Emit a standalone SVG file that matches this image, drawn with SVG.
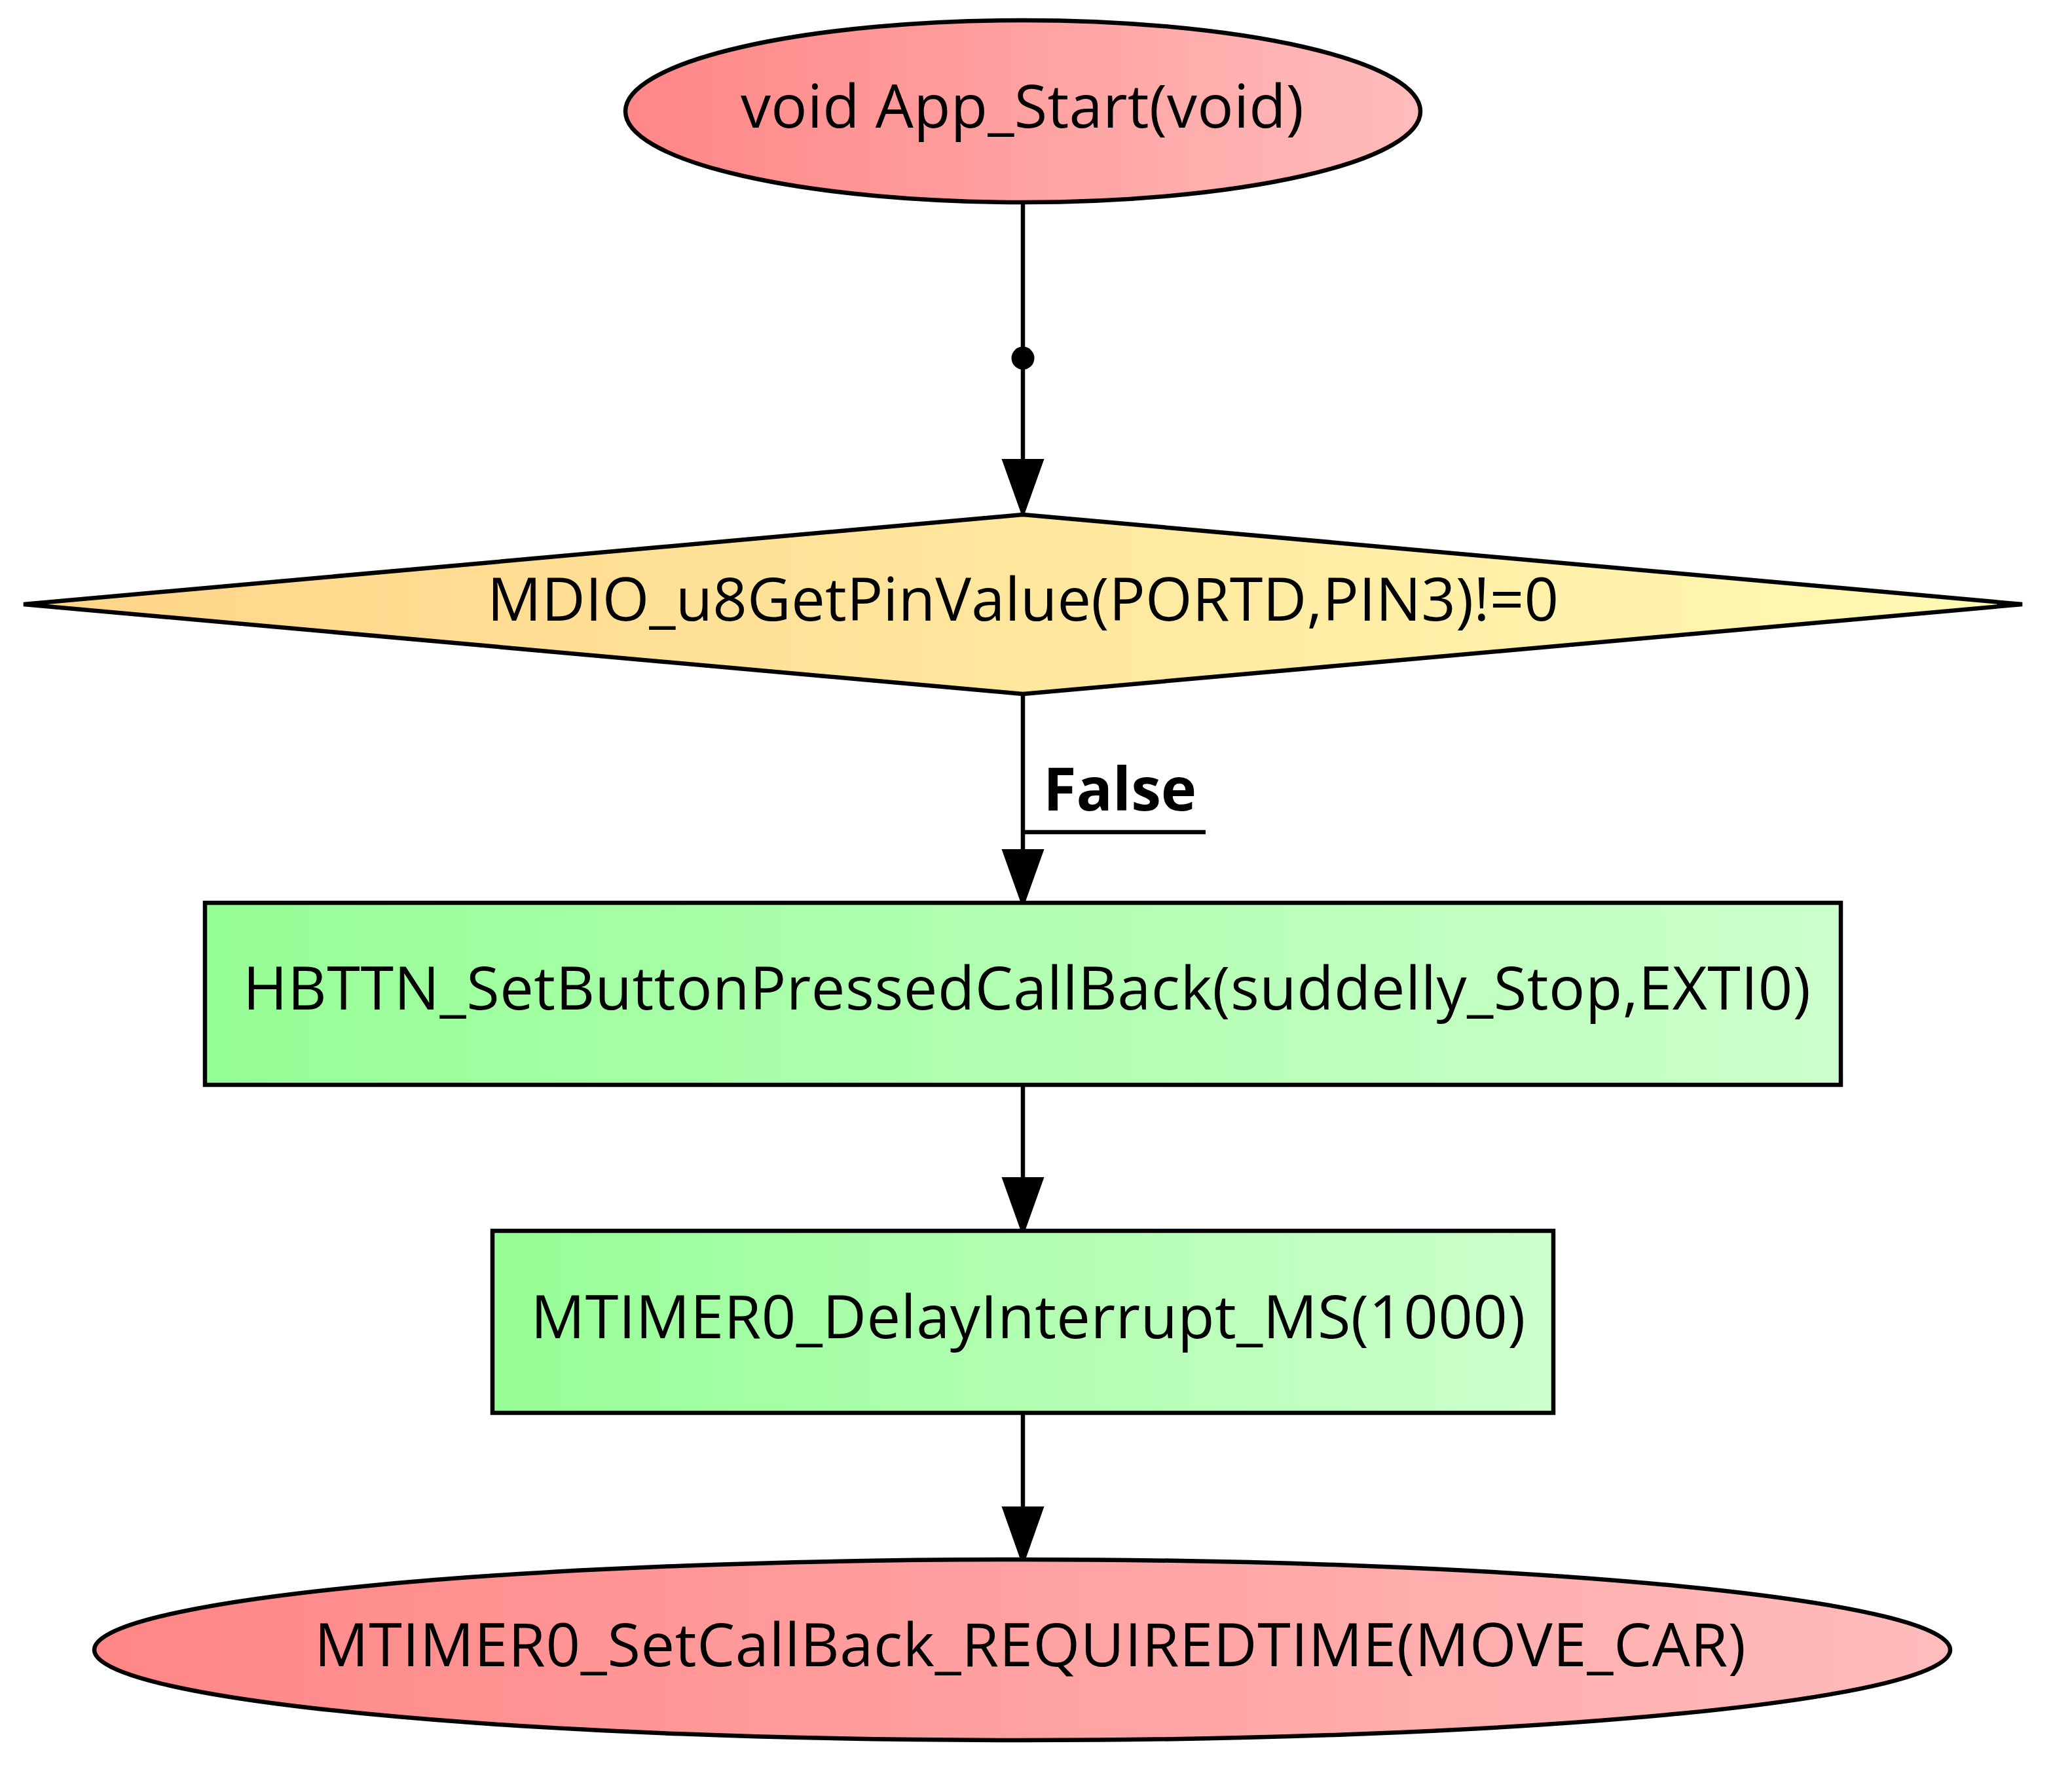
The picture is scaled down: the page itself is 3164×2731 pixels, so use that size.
<svg xmlns="http://www.w3.org/2000/svg" width="3164" height="2731" viewBox="0 0 3164 2731">
<style>
.n{stroke:#000;stroke-width:6.5}
.t{font-family:"Open Sans","Noto Sans","DejaVu Sans",sans-serif;font-size:92px;fill:#000;text-anchor:middle}
.e{stroke:#000;stroke-width:6.5;fill:none}
.a{fill:#000;stroke:none}
</style>
<defs>
<linearGradient id="gr" x1="0" y1="0" x2="1" y2="0"><stop offset="0" stop-color="#ff8686"/><stop offset="1" stop-color="#ffbcbc"/></linearGradient>
<linearGradient id="gy" x1="0" y1="0" x2="1" y2="0"><stop offset="0" stop-color="#ffd488"/><stop offset="1" stop-color="#fffab4"/></linearGradient>
<linearGradient id="gg" x1="0" y1="0" x2="1" y2="0"><stop offset="0" stop-color="#96fe96"/><stop offset="1" stop-color="#ccffcc"/></linearGradient>
</defs>
<g id="edges">
<line class="e" x1="1562" y1="312" x2="1562" y2="702"/>
<circle cx="1562" cy="547" r="17.5" fill="#000"/>
<polygon class="a" points="1529.5,701 1594.5,701 1562,792"/>
<line class="e" x1="1562" y1="1061" x2="1562" y2="1298"/>
<polygon class="a" points="1529.5,1297 1594.5,1297 1562,1388"/>
<text x="1593" y="1238" class="t" style="text-anchor:start;font-weight:bold">False</text>
<line class="e" x1="1562" y1="1271" x2="1841" y2="1271"/>
<line class="e" x1="1562" y1="1658" x2="1562" y2="1799"/>
<polygon class="a" points="1529.5,1798 1594.5,1798 1562,1889"/>
<line class="e" x1="1562" y1="2158" x2="1562" y2="2302"/>
<polygon class="a" points="1529.5,2301 1594.5,2301 1562,2393"/>
</g>
<g id="start">
<ellipse class="n" cx="1562" cy="170" rx="607" ry="139" fill="url(#gr)"/>
<text class="t" x="1561" y="195" textLength="860" lengthAdjust="spacing">void App_Start(void)</text>
</g>
<g id="cond">
<polygon class="n" points="1562,786 3088,923 1562,1060 36,923" fill="url(#gy)"/>
<text class="t" x="1562" y="948" textLength="1636" lengthAdjust="spacing">MDIO_u8GetPinValue(PORTD,PIN3)!=0</text>
</g>
<g id="step1">
<rect class="n" x="313" y="1379" width="2498" height="278" fill="url(#gg)"/>
<text class="t" x="1568" y="1542" textLength="2394" lengthAdjust="spacing">HBTTN_SetButtonPressedCallBack(suddelly_Stop,EXTI0)</text>
</g>
<g id="step2">
<rect class="n" x="752" y="1880" width="1620" height="278" fill="url(#gg)"/>
<text class="t" x="1570" y="2044" textLength="1519" lengthAdjust="spacing">MTIMER0_DelayInterrupt_MS(1000)</text>
</g>
<g id="end">
<ellipse class="n" cx="1561" cy="2520" rx="1417" ry="138" fill="url(#gr)"/>
<text class="t" x="1573" y="2545" textLength="2186" lengthAdjust="spacing">MTIMER0_SetCallBack_REQUIREDTIME(MOVE_CAR)</text>
</g>
</svg>
